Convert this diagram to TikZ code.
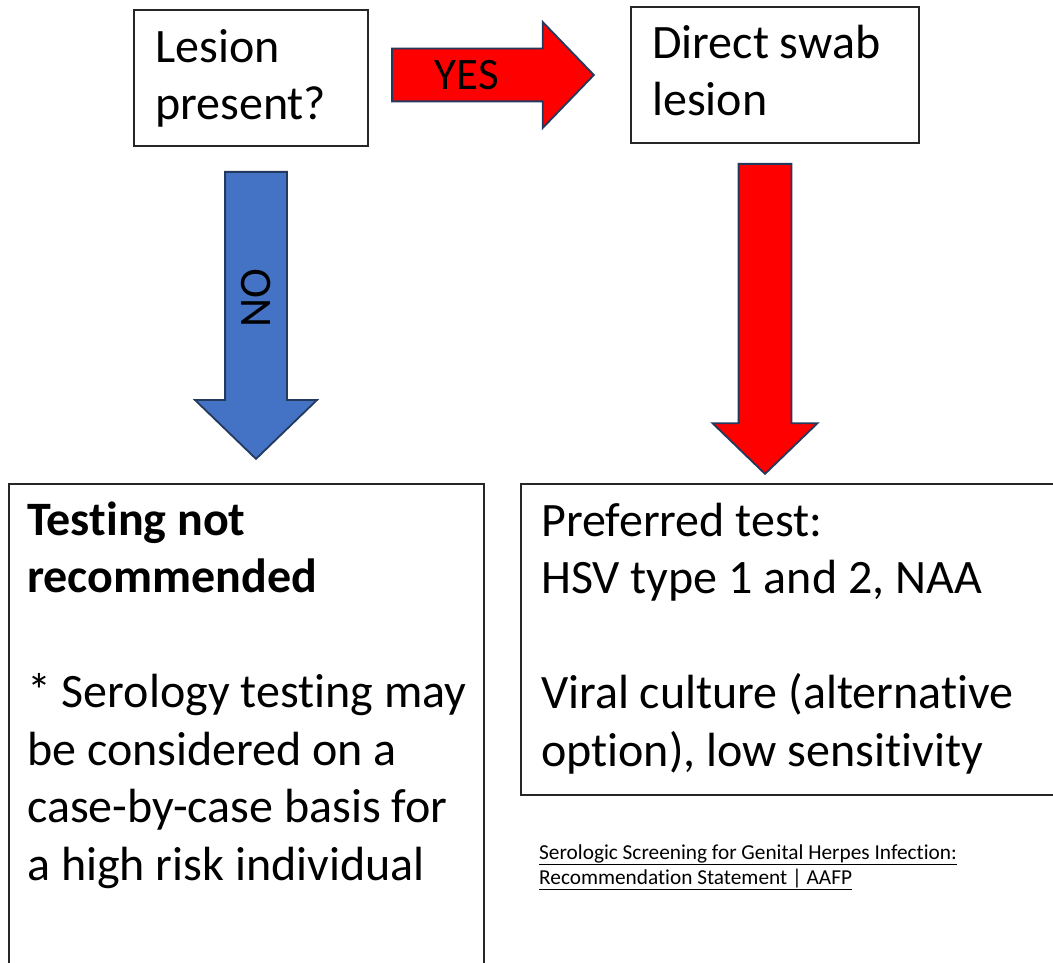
\documentclass[tikz,border=0pt]{standalone}
\usepackage{fontspec}
\setmainfont[Ligatures=NoCommon]{Carlito}
\usepackage{tikz}
\usetikzlibrary{positioning,shapes.arrows}
\definecolor{gored}{HTML}{FF0000}
\definecolor{stopblue}{HTML}{4472C4}
\definecolor{edge}{HTML}{233A5E}
\newcommand{\bigtext}{\fontsize{48}{57.5}\selectfont}

\begin{document}
\begin{tikzpicture}[x=1pt, y=-1pt,
    box/.style={draw=black!85, line width=1.3pt, inner sep=0pt},
    % multi-line texts are placed by the baseline of their last line
    txt/.style={anchor=base west, align=left, inner sep=0pt, font=\bigtext},
    blk/.style={single arrow, draw=edge, line width=1.8pt,
                single arrow tip angle=92},
    lbl/.style={font=\fontsize{45}{45}\selectfont, inner sep=0pt}]
    \useasboundingbox (0,0) rectangle (1053,963);
    \clip (0,0) rectangle (1053,963);

    % question and swab boxes
    \node[box, minimum width=234pt, minimum height=136pt] (lesion) at (251,78) {};
    \node[box, minimum width=288pt, minimum height=136pt] (swab) at (775,75) {};
    \node[txt] (lesiontxt) at (155,120) {Lesion\\present?};
    \node[txt] (swabtxt) at (652,116) {Direct swab\\lesion};

    % outcome boxes (run past the page edge)
    \node[box, minimum width=475pt, minimum height=500pt] (notest) at (246.5,734) {};
    \node[box, minimum width=540pt, minimum height=311pt] (pref) at (791,639.5) {};
    \node[txt] (notesttxt) at (27,880)
        {\textbf{Testing not}\\\textbf{recommended}\\[57.5pt]
         * Serology testing may\\be considered on a\\case-by-case basis for\\a high risk individual};
    \node[txt] (preftxt) at (541,766)
        {Preferred test:\\HSV type 1 and 2, NAA\\[57.5pt]
         Viral culture (alternative\\option), low sensitivity};

    % block arrows
    \node[blk, fill=gored, anchor=tail, inner sep=25.5pt, minimum height=202pt,
          minimum width=104pt, single arrow head extend=26.5pt] (yes) at (391,75) {};
    \node[lbl] (yestxt) at (467,75) {YES};
    \node[blk, fill=stopblue, anchor=tail, shape border rotate=270, inner sep=30pt,
          minimum height=287pt, minimum width=120pt, single arrow head extend=30pt] (no) at (256,171) {};
    \node[lbl, rotate=90] (notxt) at (256,298) {NO};
    \node[blk, fill=gored, anchor=tail, shape border rotate=270, inner sep=25.5pt,
          minimum height=310pt, minimum width=103pt, single arrow head extend=26pt] (down) at (765,163) {};

    % source note
    \node[anchor=base west, align=left, inner sep=0pt, font=\fontsize{21.3}{24.5}\selectfont]
        (src) at (539,884) {\underline{Serologic Screening for Genital Herpes Infection:}\\
                            \underline{Recommendation Statement | AAFP}};
\end{tikzpicture}
\end{document}
